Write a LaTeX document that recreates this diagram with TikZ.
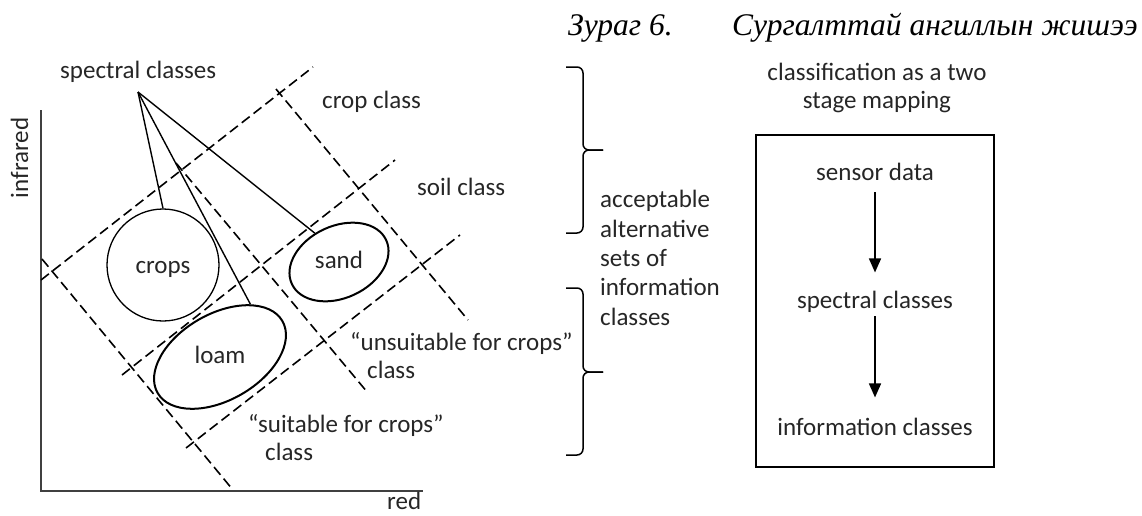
\documentclass[tikz,border=0pt]{standalone}
\usepackage{fontspec}
\setmainfont{Carlito}
\newfontfamily\titlefont{Liberation Serif}
\usetikzlibrary{positioning,arrows.meta,shapes.geometric}
\tikzset{lbl/.style={font=\fontsize{25}{29}\selectfont,text=black!85,inner sep=0pt}}
\tikzset{sep/.style={dash pattern=on 10pt off 5pt,line width=1.6pt}}
\tikzset{blob/.style={draw,ellipse,inner sep=0pt,line width=2pt}}
\tikzset{pointer/.style={line width=1.4pt}}
\tikzset{bracket/.style={line width=1.5pt,rounded corners=6pt}}
\tikzset{axis/.style={line width=2.4pt,black!75}}
\tikzset{flow/.style={-{Triangle[length=14pt,width=12pt]},line width=1.5pt}}
\tikzset{heading/.style={anchor=base west,inner sep=0pt,font=\titlefont\itshape\fontsize{31.5}{36}\selectfont}}

\begin{document}
\begin{tikzpicture}[x=1pt,y=-1pt]
  \useasboundingbox (0,0) rectangle (1142,515);
  % title
  \node[heading] (figno) at (568,35) {Зураг 6.};
  \node[heading] (figtitle) at (732,35) {Сургалттай ангиллын жишээ};
  % axes
  \coordinate (origin) at (41,491);
  \draw[axis] (41,110) -- (origin) -- (423,491);
  \node[lbl,rotate=90,anchor=base] (ylab) at (28,158) {infrared};
  \node[lbl,anchor=base west] (xlab) at (387,509) {red};
  % class boundaries
  \draw[sep] (41,280) -- (313,67);
  \draw[sep] (122,375) -- (395,160);
  \draw[sep] (186,448) -- (460,235);
  \draw[sep] (42,259) -- (233,490);
  \draw[sep] (176,163) -- (368,393);
  \draw[sep] (276,89) -- (468,320);
  % spectral classes
  \node[draw,circle,minimum size=112pt,inner sep=0pt,line width=1.3pt] (crops) at (163,265) {};
  \node[blob,minimum width=144pt,minimum height=86pt,rotate=30] (loam) at (220,357) {};
  \node[blob,minimum width=104pt,minimum height=72pt,rotate=25] (sand) at (339,262) {};
  \node[lbl,anchor=base] (cropstxt) at (163,273) {crops};
  \node[lbl,anchor=base] (loamtxt) at (220,363) {loam};
  \node[lbl,anchor=base] (sandtxt) at (339,268) {sand};
  \node[lbl,anchor=base west] (spec) at (60,78) {spectral classes};
  \coordinate (apex) at (138,92);
  \draw[pointer] (apex) -- (crops.north);
  \draw[pointer] (apex) -- (loam.30);
  \draw[pointer] (apex) -- (sand.105);
  % information classes
  \node[lbl,anchor=base west] (cropcl) at (322,108) {crop class};
  \node[lbl,anchor=base west] (soilcl) at (417,195) {soil class};
  \node[lbl,anchor=base west] (unsuit) at (350,350) {“unsuitable for crops”};
  \node[lbl,anchor=base west] (unsuitcl) at (367,378) {class};
  \node[lbl,anchor=base west] (suit) at (248,432) {“suitable for crops”};
  \node[lbl,anchor=base west] (suitcl) at (265,460) {class};
  % brackets
  \draw[bracket] (566,67) -- (583,67) -- (583,150) -- (603,150);
  \draw[bracket] (603,150) -- (583,150) -- (583,233) -- (566,233);
  \draw[bracket] (566,288) -- (583,288) -- (583,372) -- (603,372);
  \draw[bracket] (603,372) -- (583,372) -- (583,455) -- (566,455);
  \node[lbl,align=left,anchor=base west,font=\fontsize{25}{29.3}\selectfont] (sets) at (600,325)
    {acceptable\\alternative\\sets of\\information\\classes};
  % two stage mapping
  \node[lbl,align=center,anchor=base,font=\fontsize{25}{28}\selectfont] (caption) at (877,108)
    {classification as a two\\stage mapping};
  \node[draw,minimum width=238pt,minimum height=332pt,line width=1.6pt] (frame) at (875,301) {};
  \node[lbl,anchor=base] (sensor) at (875,180) {sensor data};
  \node[lbl,anchor=base] (spectral) at (875,308) {spectral classes};
  \node[lbl,anchor=base] (info) at (875,435) {information classes};
  \draw[flow,shorten <=12pt,shorten >=18pt] (sensor.south) -- (spectral.north);
  \draw[flow,shorten <=4pt,shorten >=20pt] (spectral.south) -- (info.north);
\end{tikzpicture}
\end{document}
